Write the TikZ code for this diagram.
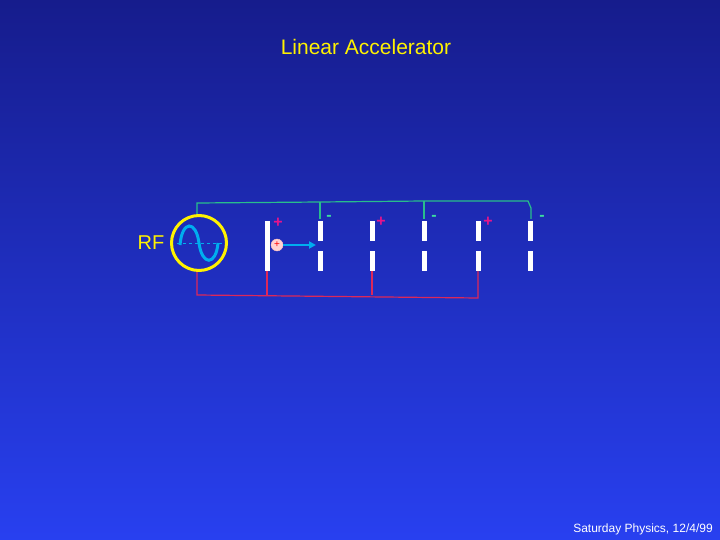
\documentclass[tikz,border=0pt]{standalone}
\usepackage{fontspec}
\setmainfont{Liberation Sans}
\usetikzlibrary{arrows.meta}
\begin{document}
\begin{tikzpicture}[x=1pt,y=-1pt,
  plate/.style={fill=white,draw=none},
  gw/.style={draw=wgreen,line width=1.2pt},
  rw/.style={draw=wred,line width=1.2pt},
  plus/.style={text=wmag,font=\fontsize{16}{16}\selectfont\bfseries},
  minus/.style={text=wgreen2,font=\fontsize{16}{16}\selectfont\bfseries}]
\definecolor{topb}{RGB}{22,28,140}
\definecolor{botb}{RGB}{40,64,240}
\definecolor{wgreen}{RGB}{40,190,140}
\definecolor{wgreen2}{RGB}{60,220,160}
\definecolor{wred}{RGB}{220,40,90}
\definecolor{wmag}{RGB}{230,20,140}
\shade[top color=topb,bottom color=botb] (0,0) rectangle (720,540);
\useasboundingbox (0,0) rectangle (720,540);
\node[text=yellow,font=\fontsize{21}{21}\selectfont] (title) at (366,47) {Linear Accelerator};
\node[text=white,font=\fontsize{12}{12}\selectfont] (foot) at (643,529) {Saturday Physics, 12/4/99};
\node[text=yellow,font=\fontsize{20}{20}\selectfont] (rf) at (151,243) {RF};
% wires
\coordinate (gt) at (197,214);
\draw[gw] (gt) -- (197,203) -- (320,202) (320,202) -- (424,201) -- (528,201) -- (531,208) -- (531,219);
\draw[gw] (320,202) -- (320,219) (424,201) -- (424,219);
\draw[rw] (197,271) -- (197,295) -- (478,298) -- (478,268);
\draw[rw] (267,271) -- (267,295) (372,271) -- (372,295);
% RF source
\node[circle,draw=yellow,line width=3pt,minimum size=55pt,inner sep=0pt] (src) at (199,243) {};
\draw[cyan,dashed,thin] (177,243) -- (222,243);
\draw[cyan,line width=3pt] (180,245) .. controls (182,220) and (196,220) .. (199,243) .. controls (202,266) and (216,266) .. (218,243);
% plates
\fill[plate] (265,221) rectangle (270,271);
\foreach \x in {320,372,424,478,530}{
 \fill[plate] (\x-2.5,221) rectangle (\x+2.5,241);
 \fill[plate] (\x-2.5,251) rectangle (\x+2.5,271);}
% signs
\node[plus] (p1) at (278,223) {+};
\node[minus] (m1) at (329,218) {-};
\node[plus] (p2) at (381,222) {+};
\node[minus] (m2) at (434,218) {-};
\node[plus] (p3) at (488,222) {+};
\node[minus] (m3) at (542,218) {-};
% particle
\node[circle,fill=pink!70,draw=pink,inner sep=0pt,minimum size=12pt,text=red,font=\fontsize{10}{10}\selectfont] (pt) at (277,245) {+};
\coordinate (ae) at (316,245);
\draw[cyan,line width=2pt,-{Triangle[length=7pt,width=7pt]}] (pt) -- (ae);
\end{tikzpicture}
\end{document}
